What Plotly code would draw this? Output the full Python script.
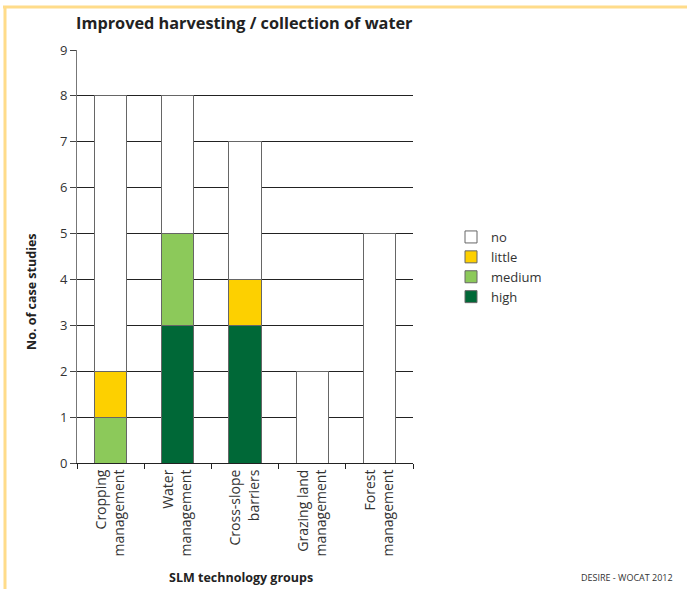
import plotly.graph_objects as go

categories = ["Cropping<br>management", "Water<br>management", "Cross-slope<br>barriers",
              "Grazing land<br>management", "Forest<br>management"]
high = [0, 3, 3, 0, 0]
medium = [1, 2, 0, 0, 0]
little = [1, 0, 1, 0, 0]
no = [6, 3, 3, 2, 5]

series = [
    ("high", high, "#006837"),
    ("medium", medium, "#8cc95a"),
    ("little", little, "#fdd000"),
    ("no", no, "#ffffff"),
]

W, H = 687, 589
L, R, T, B = 77, 413, 50, 463

def px(x):
    return (x - L) / (R - L)

def py(y):
    return (B - y) / (B - T)

fig = go.Figure()
for name, vals, col in series:
    fig.add_trace(go.Bar(
        x=categories, y=vals, name=name,
        marker=dict(color=col, line=dict(color="#666666", width=1)),
        width=0.48,
    ))

font = "Open Sans, DejaVu Sans, sans-serif"
fig.update_layout(
    width=W, height=H,
    margin=dict(l=L, r=W - R, t=T, b=H - B),
    barmode="stack",
    plot_bgcolor="white", paper_bgcolor="white",
    font=dict(family=font, size=12, color="#333333"),
    showlegend=True,
    legend=dict(x=px(451), y=py(222), xanchor="left", yanchor="top",
                traceorder="reversed", font=dict(size=13, color="#333333"),
                itemwidth=30, tracegroupgap=0),
    xaxis=dict(showline=True, linecolor="#222222", linewidth=1,
               ticks="outside", ticklen=5, tickcolor="#222222",
               tickson="boundaries", tickangle=-90,
               tickfont=dict(size=14, color="#333333"),
               showgrid=False),
    yaxis=dict(range=[0, 9], dtick=1, showline=True, linecolor="#777777",
               linewidth=1, ticks="outside", ticklen=6, tickcolor="#444444",
               showgrid=True, gridcolor="#222222", gridwidth=1,
               zeroline=False, tickfont=dict(size=13, color="#333333")),
    annotations=[
        dict(text="<b>Improved harvesting / collection of water</b>",
             x=px(74), y=py(23), xref="paper", yref="paper",
             xanchor="left", yanchor="middle", showarrow=False,
             font=dict(size=16.3, color="#222222")),
        dict(text="<b>No. of case studies</b>", textangle=-90,
             x=px(31), y=py(291), xref="paper", yref="paper",
             xanchor="center", yanchor="middle", showarrow=False,
             font=dict(size=12.5, color="#222222")),
        dict(text="<b>SLM technology groups</b>",
             x=px(241), y=py(577), xref="paper", yref="paper",
             xanchor="center", yanchor="middle", showarrow=False,
             font=dict(size=12.5, color="#222222")),
        dict(text="DESIRE - WOCAT 2012",
             x=px(627), y=py(577), xref="paper", yref="paper",
             xanchor="center", yanchor="middle", showarrow=False,
             font=dict(size=9, color="#333333")),
    ],
    shapes=[
        dict(type="line", xref="paper", yref="paper",
             x0=px(3), x1=px(690), y0=py(7), y1=py(7),
             line=dict(color="#ffdc8a", width=3)),
        dict(type="line", xref="paper", yref="paper",
             x0=px(5), x1=px(5), y0=py(6), y1=py(592),
             line=dict(color="#ffdc8a", width=3)),
    ],
)

fig.write_html("out.html", config={"displayModeBar": False},
               post_script="document.body.style.margin='0';document.body.style.overflow='hidden';")
